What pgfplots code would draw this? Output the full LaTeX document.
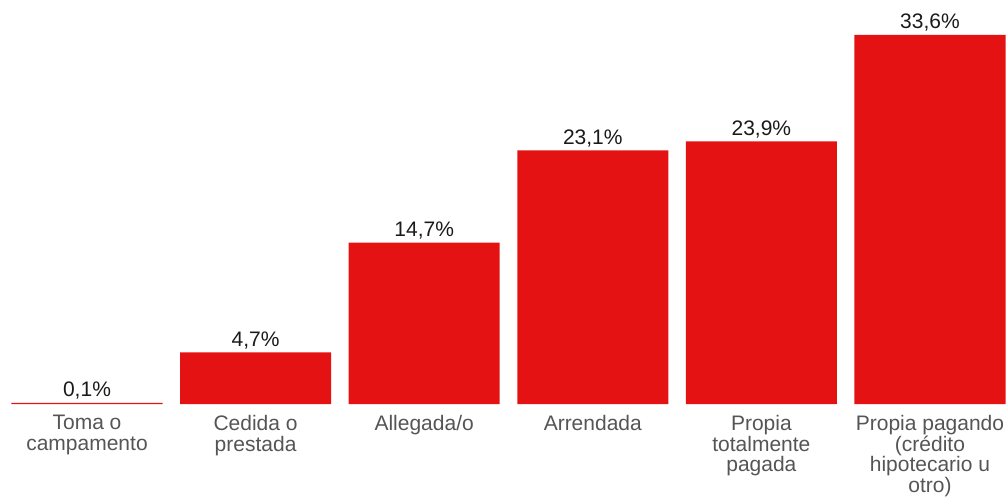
\documentclass[border=0pt]{standalone}
\usepackage{fontspec}
\setmainfont{Liberation Sans}
\usepackage{pgfplots}
\pgfplotsset{compat=1.18}
\definecolor{barred}{HTML}{E41212}
\definecolor{ticktext}{HTML}{555555}
\definecolor{valtext}{HTML}{1A1A1A}

\begin{document}
\begin{tikzpicture}
    \path[use as bounding box] (0pt,-95pt) rectangle (1008pt,404pt);
    % housing tenure shares
    \begin{axis}[
        at={(0pt,0pt)},
        anchor=south west,
        scale only axis,
        width=1008pt,
        height=404pt,
        xmin=-0.516, xmax=5.463,
        ymin=0, ymax=36.78,
        ybar,
        bar width=0.896,
        axis line style={draw=none},
        tick style={draw=none},
        ytick=\empty,
        xtick=data,
        xticklabels={
            Toma o\\campamento,
            Cedida o\\prestada,
            Allegada/o,
            Arrendada,
            Propia\\totalmente\\pagada,
            Propia pagando\\(crédito\\hipotecario u\\otro)
        },
        xticklabel style={
            align=center,
            font=\fontsize{21}{20.5}\selectfont,
            text=ticktext,
            inner sep=0pt,
            anchor=north,
            yshift=-7pt
        },
        nodes near coords={\pgfmathprintnumber[fixed,fixed zerofill,precision=1,use comma]{\pgfplotspointmeta}\%},
        nodes near coords style={
            font=\fontsize{21}{21}\selectfont,
            text=valtext,
            inner sep=0pt,
            anchor=base,
            yshift=6pt
        },
        /pgf/number format/assume math mode=true,
        clip=false
    ]
    \addplot[fill=barred, draw=none] coordinates {
        (0,0.1)
        (1,4.7)
        (2,14.7)
        (3,23.1)
        (4,23.9)
        (5,33.6)
    };
    \end{axis}
\end{tikzpicture}
\end{document}
